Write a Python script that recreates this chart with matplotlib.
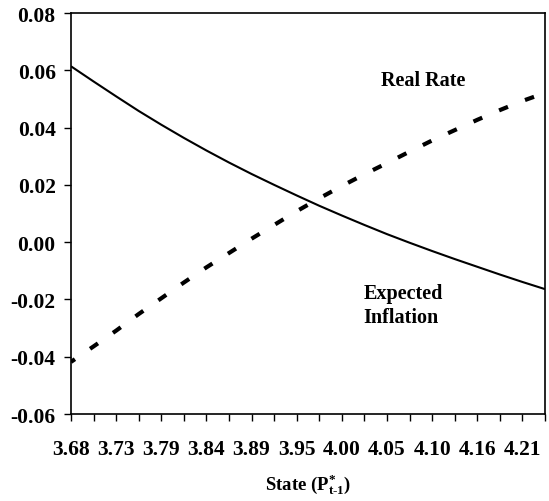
import matplotlib
matplotlib.use("Agg")
import matplotlib.pyplot as plt

# state grid (P*_{t-1}); only every second point gets a label
state_labels = ["3.68", "", "3.73", "", "3.79", "", "3.84", "", "3.89", "", "3.95",
                "", "4.00", "", "4.05", "", "4.10", "", "4.16", "", "4.21", ""]

# solid curve
real_rate = [0.0614, 0.0561, 0.0509, 0.0458, 0.0410, 0.0364, 0.0320, 0.0278,
             0.0238, 0.0200, 0.0163, 0.0127, 0.0093, 0.0060, 0.0028, -0.0002,
             -0.0031, -0.0059, -0.0086, -0.0113, -0.0139, -0.0164]

# dashed curve
expected_inflation = [-0.0418, -0.0364, -0.0309, -0.0251, -0.0196, -0.0141, -0.0088,
                      -0.0038, 0.0012, 0.0060, 0.0108, 0.0153, 0.0196, 0.0237,
                      0.0276, 0.0316, 0.0355, 0.0391, 0.0427, 0.0461, 0.0493, 0.0521]

y_ticks = [-0.06, -0.04, -0.02, 0.00, 0.02, 0.04, 0.06, 0.08]
y_tick_labels = ["-0.06", "-0.04", "-0.02", "0.00", "0.02", "0.04", "0.06", "0.08"]

plt.rcParams["font.family"] = ["Liberation Serif", "DejaVu Serif"]
plt.rcParams["font.weight"] = "bold"
plt.rcParams["mathtext.fontset"] = "custom"
plt.rcParams["mathtext.rm"] = "Liberation Serif:bold"
plt.rcParams["mathtext.it"] = "Liberation Serif:bold"
plt.rcParams["mathtext.bf"] = "Liberation Serif:bold"

fig = plt.figure(figsize=(5.49, 5.02), dpi=100)
ax = fig.add_axes([0.1293, 0.1733, 0.8634, 0.7988])

x = list(range(len(state_labels)))
ax.plot(x, real_rate, color="black", lw=1.5, solid_capstyle="butt")
ax.plot(x, expected_inflation, color="black", lw=3.0,
        linestyle=(1.15, (2.3, 4.4)), dash_capstyle="butt")

ax.set_xlim(0, len(x) - 1)
ax.set_ylim(-0.06, 0.08)

ax.set_xticks(x)
ax.set_xticklabels(state_labels)
ax.set_yticks(y_ticks)
ax.set_yticklabels(y_tick_labels)
ax.tick_params(axis="x", direction="out", length=5, width=1, pad=13, labelsize=15.5)
ax.tick_params(axis="y", direction="out", length=5, width=1, pad=6, labelsize=15.5)
for lab in ax.get_xticklabels() + ax.get_yticklabels():
    lab.set_fontweight("bold")

for sp in ax.spines.values():
    sp.set_linewidth(1.2)

ax.set_xlabel(r"State (P$^{*}_{\text{t-1}}$)", fontsize=13.5, fontweight="bold",
              labelpad=9)

ax.text(15.6, 0.0565, "Real Rate", fontsize=14.5, fontweight="bold",
        ha="center", va="center")
ax.text(12.95, -0.022, "Expected\nInflation", fontsize=14.5, fontweight="bold",
        ha="left", va="center", linespacing=1.3)

fig.savefig("out.png", dpi=100)
